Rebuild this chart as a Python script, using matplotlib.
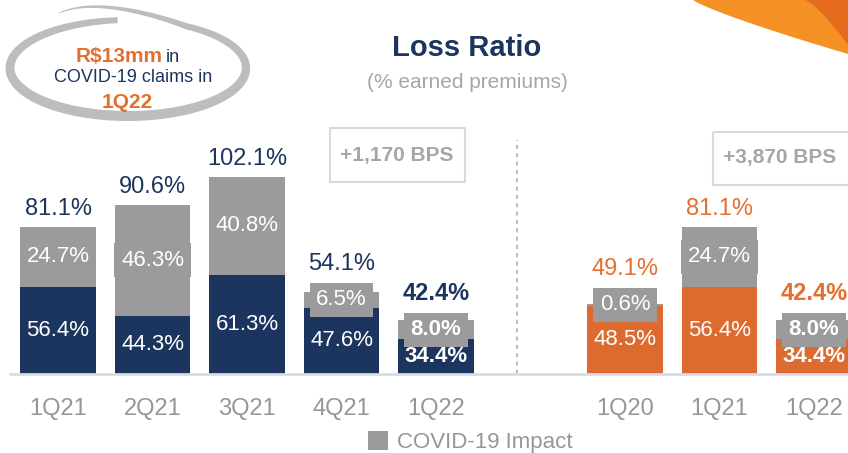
import numpy as np
import matplotlib.pyplot as plt
from matplotlib.patches import Rectangle

plt.rcParams['font.family'] = ['Liberation Sans', 'DejaVu Sans']

# dados do grafico
left_quarters = ['1Q21', '2Q21', '3Q21', '4Q21', '1Q22']
left_base = [56.4, 44.3, 61.3, 47.6, 34.4]
left_covid = [24.7, 46.3, 40.8, 6.5, 8.0]
left_total = [81.1, 90.6, 102.1, 54.1, 42.4]

right_quarters = ['1Q20', '1Q21', '1Q22']
right_base = [48.5, 56.4, 34.4]
right_covid = [0.6, 24.7, 8.0]
right_total = [49.1, 81.1, 42.4]

left_pos = [0, 1, 2, 3, 4]
right_pos = [6, 7, 8]

NAVY = '#1C355E'
ORANGE = '#DD6B2F'
ORANGE_TXT = '#E3702E'
GRAY = '#9B9B9D'
LIGHT = '#A6A6A6'
TICK = '#969696'

PX = 2.4      # pixels per percentage point
Y0 = 20       # hidden part of the axis


def draw_group(ax, pos, base, covid, total, color, total_color):
    ax.bar(pos, base, width=0.8, color=color, zorder=2)
    cont = ax.bar(pos, covid, bottom=base, width=0.8, color=GRAY, zorder=2)
    n = len(pos)
    for i in range(n):
        last = (i == n - 1)
        w = 'bold' if last else 'normal'
        ax.text(pos[i], (Y0 + base[i]) / 2, f"{base[i]:.1f}%", ha='center', va='center',
                color='white', fontsize=16, fontweight=w, zorder=5)
        yc = base[i] + covid[i] / 2
        ax.text(pos[i], yc, f"{covid[i]:.1f}%", ha='center', va='center',
                color='white', fontsize=16, fontweight=w, zorder=4,
                bbox=dict(boxstyle='square,pad=0.3', fc=GRAY, ec='none'))
        top = max(total[i], yc + 18 / PX)
        ax.annotate(f"{total[i]:.1f}%", (pos[i], top), xytext=(0, 18),
                    textcoords='offset pixels', ha='center', va='center',
                    color=total_color, fontsize=17, fontweight=w, zorder=4)
    return cont


fig = plt.figure(figsize=(8.48, 4.53), dpi=100)

# camada de decoracao em pixels
oax = fig.add_axes([0, 0, 1, 1])
oax.set_xlim(0, 848)
oax.set_ylim(453, 0)
oax.axis('off')

ax = fig.add_axes([0, 79 / 453, 1, 374 / 453])
ax.patch.set_alpha(0)
ax.set_xlim(-0.614, 8.36)
ax.set_ylim(Y0, Y0 + 374 / PX)

cont = draw_group(ax, left_pos, left_base, left_covid, left_total, NAVY, NAVY)
draw_group(ax, right_pos, right_base, right_covid, right_total, ORANGE, ORANGE_TXT)

# linha de base e separador
ax.axhline(Y0, xmin=10 / 848, xmax=1, color='#D5DCEA', lw=2, zorder=3, clip_on=False)
ax.plot([4.86, 4.86], [Y0, Y0 + (374 - 140) / PX], color='#BFBFBF', lw=1.5,
        ls=(0, (2, 2)), zorder=1)

ax.set_xticks(left_pos + right_pos, left_quarters + right_quarters)
ax.tick_params(axis='x', length=0, pad=17, labelsize=17, labelcolor=TICK)
ax.set_yticks([])
for s in ax.spines.values():
    s.set_visible(False)

# oval em volta do texto
t = np.radians(np.linspace(95, 490, 400))
u = np.clip((np.degrees(t) - 420) / 70, 0, 1)
a = 118 * (1 - 0.15 * u)
b = 48 * (1 + 0.5 * u)
cx, cy = 128 - 4 * u, 68
xs = cx + a * np.cos(t)
ys = cy - b * np.sin(t)
wid = 6 + 4 * np.sin(np.clip((np.degrees(t) - 95) / 330 * np.pi, 0, np.pi))
wid = wid * (1 - 0.85 * u)
dx = np.gradient(xs)
dy = np.gradient(ys)
nrm = np.hypot(dx, dy)
nx, ny = -dy / nrm, dx / nrm
px = np.concatenate([xs + nx * wid / 2, (xs - nx * wid / 2)[::-1]])
py = np.concatenate([ys + ny * wid / 2, (ys - ny * wid / 2)[::-1]])
oax.fill(px, py, color='#BDBDBD', lw=0)

oax.text(163, 56, 'R\\$13mm', ha='right', va='center', color=ORANGE_TXT,
         fontsize=15, fontweight='bold')
oax.text(166, 57, 'in', ha='left', va='center', color=NAVY, fontsize=13)
oax.text(133, 78, 'COVID-19 claims in', ha='center', va='center', color=NAVY, fontsize=13)
oax.text(127, 102, '1Q22', ha='center', va='center', color=ORANGE_TXT,
         fontsize=15, fontweight='bold')

# faixa laranja no canto
sx = np.linspace(693, 848, 50)
sy = 54 * ((sx - 693) / 155) ** 0.85
oax.fill(np.concatenate([sx, [848, 693]]), np.concatenate([sy, [0, 0]]),
         color='#F49024', lw=0)
dxs = np.linspace(805, 848, 30)
dys = 45 * ((dxs - 805) / 43) ** 1.3
oax.fill(np.concatenate([dxs, [848, 805]]), np.concatenate([dys, [0, 0]]),
         color='#E2641C', lw=0, alpha=0.8)

# titulo
oax.text(467, 48, 'Loss Ratio', ha='center', va='center', color=NAVY,
         fontsize=21, fontweight='bold')
oax.text(467, 83, '(% earned premiums)', ha='center', va='center', color=LIGHT, fontsize=15)

# caixas de BPS
oax.add_patch(Rectangle((330, 128), 135, 54, fill=False, ec='#D9D9D9', lw=1.5))
oax.text(397, 156, '+1,170 BPS', ha='center', va='center', color=LIGHT,
         fontsize=15, fontweight='bold')
oax.add_patch(Rectangle((713, 132), 150, 53, fill=False, ec='#D9D9D9', lw=1.5, clip_on=False))
oax.text(780, 158, '+3,870 BPS', ha='center', va='center', color=LIGHT,
         fontsize=15, fontweight='bold')

fig.legend([cont], ['COVID-19 Impact'], loc='center', bbox_to_anchor=(470 / 848, 1 - 442 / 453),
           frameon=False, fontsize=16, handlelength=0.9, handleheight=0.9,
           handletextpad=0.4, labelcolor=TICK)

fig.savefig('out.png', dpi=100)
